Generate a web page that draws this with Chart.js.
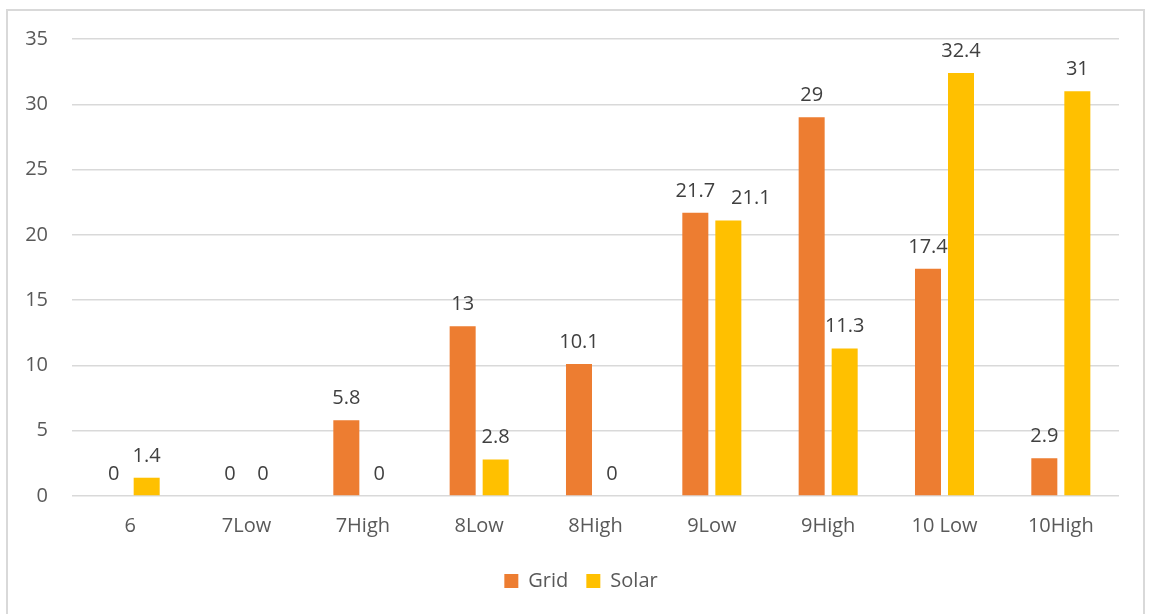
<!DOCTYPE html>
<html>
<head>
<meta charset="utf-8">
<script src="https://cdn.jsdelivr.net/npm/chart.js@4/dist/chart.umd.min.js"></script>
<style>
  html, body { margin: 0; padding: 0; background: #ffffff; }
  #wrap { position: relative; width: 1151px; height: 614px; overflow: hidden; }
  #frame { position: absolute; left: 6px; top: 9px; width: 1139px; height: 640px; border: 2px solid #d9d9d9; box-sizing: border-box; pointer-events: none; }
  canvas { position: absolute; left: 0; top: 0; }
</style>
</head>
<body>
<div id="wrap">
  <canvas id="chart" width="1162" height="614"></canvas>
  <div id="frame"></div>
</div>
<script>
// Categories and series
const categories = ['6', '7Low', '7High', '8Low', '8High', '9Low', '9High', '10 Low', '10High'];
const gridValues = [0, 0, 5.8, 13, 10.1, 21.7, 29, 17.4, 2.9];
const solarValues = [1.4, 0, 0, 2.8, 0, 21.1, 11.3, 32.4, 31];
const yTicks = [0, 5, 10, 15, 20, 25, 30, 35];

const FONT = '"Open Sans", "Noto Sans", sans-serif';
const SIZE = 20;

// Draws each bar's value just above its top; a label that would collide
// with its neighbour in the same category is nudged to the right.
const valueLabels = {
  id: 'valueLabels',
  afterDatasetsDraw(chart) {
    const ctx = chart.ctx;
    ctx.save();
    ctx.font = SIZE + 'px ' + FONT;
    ctx.fillStyle = '#404040';
    ctx.textAlign = 'left';
    ctx.textBaseline = 'alphabetic';
    const placed = {};
    chart.data.datasets.forEach((ds, i) => {
      const meta = chart.getDatasetMeta(i);
      meta.data.forEach((bar, j) => {
        const text = String(ds.data[j]);
        const w = ctx.measureText(text).width;
        const y = bar.y - 16;
        let left = bar.x - w / 2;
        const prev = placed[j];
        if (prev && Math.abs(prev.y - y) < SIZE && left < prev.right + 4) {
          left = prev.right + 16;
        }
        ctx.fillText(text, left, y);
        placed[j] = { right: left + w, y: y };
      });
    });
    ctx.restore();
  }
};

new Chart(document.getElementById('chart'), {
  type: 'bar',
  data: {
    labels: categories,
    datasets: [
      { label: 'Grid', data: gridValues, backgroundColor: '#ED7D31',
        categoryPercentage: 0.5675, barPercentage: 0.788 },
      { label: 'Solar', data: solarValues, backgroundColor: '#FFC000',
        categoryPercentage: 0.5675, barPercentage: 0.788 }
    ]
  },
  options: {
    responsive: false,
    animation: false,
    layout: { padding: { top: 39, right: 0, bottom: 13, left: 0 } },
    plugins: {
      tooltip: { enabled: false },
      legend: {
        position: 'bottom',
        labels: {
          boxWidth: 14, boxHeight: 14, padding: 18,
          color: '#595959',
          font: { family: FONT, size: SIZE }
        }
      }
    },
    scales: {
      x: {
        grid: { display: false, drawTicks: false },
        border: { display: false },
        ticks: { color: '#595959', font: { family: FONT, size: SIZE }, padding: 18, maxRotation: 0 },
        afterFit(scale) { scale.height = 57; }
      },
      y: {
        min: 0, max: 35,
        afterBuildTicks(scale) { scale.ticks = yTicks.map(v => ({ value: v })); },
        grid: { color: '#d9d9d9', lineWidth: 1.5, drawTicks: false },
        border: { display: false },
        ticks: { color: '#595959', font: { family: FONT, size: SIZE }, padding: 24 },
        afterFit(scale) { scale.width = 72; }
      },
      // empty right-hand margin of the plot
      yRight: {
        type: 'linear', position: 'right',
        grid: { display: false, drawTicks: false },
        border: { display: false },
        ticks: { display: false },
        afterFit(scale) { scale.width = 43; }
      }
    }
  },
  plugins: [valueLabels]
});
</script>
</body>
</html>
